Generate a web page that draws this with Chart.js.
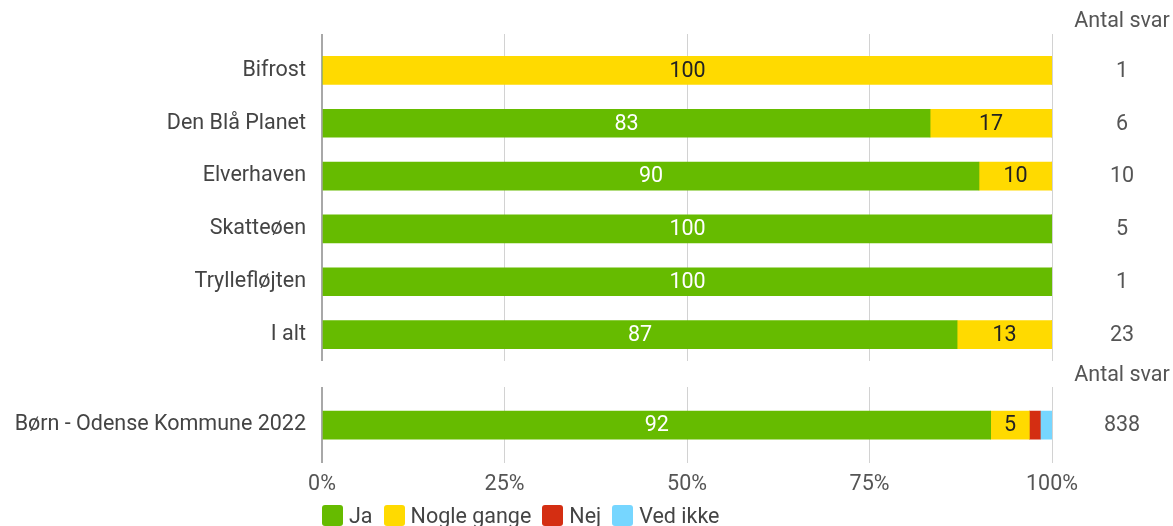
<!DOCTYPE html>
<html>
<head>
<meta charset="utf-8">
<script src="https://cdn.jsdelivr.net/npm/chart.js@4"></script>
<style>
  body { margin: 0; width: 1173px; height: 526px; background: #fff; position: relative; overflow: hidden; font-family: Roboto, sans-serif; }
  #topWrap { position: absolute; left: 0; top: 0; width: 1173px; height: 366px; }
  #bottomWrap { position: absolute; left: 0; top: 364px; width: 1173px; height: 148px; }
  #legend { position: absolute; left: 322px; top: 505px; height: 21px; display: flex; align-items: center; font-family: Roboto, sans-serif; font-size: 21.5px; color: #444; }
  #legend .item { display: flex; align-items: center; margin-right: 11px; }
  #legend .box { width: 21px; height: 21px; border-radius: 3px; margin-right: 6px; }
</style>
</head>
<body>
<div id="topWrap"><canvas id="topChart"></canvas></div>
<div id="bottomWrap"><canvas id="bottomChart"></canvas></div>
<div id="legend"></div>
<script>
const seriesNames = ['Ja', 'Nogle gange', 'Nej', 'Ved ikke'];
const seriesColors = ['#66bb00', '#ffda00', '#d42e12', '#76d6ff'];
const labelColors = ['#ffffff', '#222222', '#ffffff', '#222222'];

const topLabels = ['Bifrost', 'Den Blå Planet', 'Elverhaven', 'Skatteøen', 'Tryllefløjten', 'I alt'];
const topJa = [0, 83.3, 90, 100, 100, 87];
const topNogle = [100, 16.7, 10, 0, 0, 13];
const topNej = [0, 0, 0, 0, 0, 0];
const topVedIkke = [0, 0, 0, 0, 0, 0];
const topCounts = [1, 6, 10, 5, 1, 23];

const bottomLabels = ['Børn - Odense Kommune 2022'];
const bottomJa = [91.6];
const bottomNogle = [5.3];
const bottomNej = [1.5];
const bottomVedIkke = [1.6];
const bottomCounts = [838];

const xTicks = [0, 25, 50, 75, 100];

const FONT_SIZE = 21.5;

// draws values inside the bars and the "Antal svar" column
const barLabels = {
  id: 'barLabels',
  afterDatasetsDraw(chart, args, opts) {
    const ctx = chart.ctx;
    ctx.save();
    ctx.font = FONT_SIZE + 'px Roboto';
    ctx.textAlign = 'center';
    ctx.textBaseline = 'middle';
    chart.data.datasets.forEach((ds, i) => {
      chart.getDatasetMeta(i).data.forEach((bar, j) => {
        const v = ds.data[j];
        if (v < 4) return;
        ctx.fillStyle = ds.labelColor;
        ctx.fillText(Math.round(v), (bar.x + bar.base) / 2, bar.y + 1);
      });
    });
    const yScale = chart.scales.y;
    ctx.fillStyle = '#555';
    opts.counts.forEach((c, j) => ctx.fillText(c, 1122, yScale.getPixelForValue(j) + 1));
    ctx.fillText('Antal svar', 1122, chart.chartArea.top - opts.headerGap);
    ctx.restore();
  }
};

function makeDatasets(values) {
  return values.map((data, i) => ({
    label: seriesNames[i],
    data: data,
    backgroundColor: seriesColors[i],
    labelColor: labelColors[i],
    borderWidth: 0,
    barThickness: 28
  }));
}

const gridColor = ctx => (ctx.tick && ctx.tick.value === 0) ? '#a8a8a8' : '#d2d2d2';
const gridWidth = ctx => (ctx.tick && ctx.tick.value === 0) ? 2 : 1;

function yAxis() {
  return {
    stacked: true,
    grid: { display: false, drawTicks: false },
    border: { display: false },
    ticks: { color: '#444', padding: 16, font: { family: 'Roboto', size: FONT_SIZE } },
    afterFit: scale => {
      scale.width = 322;
      scale.paddingTop = 0;
      scale.paddingBottom = 0;
    }
  };
}

Chart.defaults.animation = false;

new Chart(document.getElementById('topChart'), {
  type: 'bar',
  data: {
    labels: topLabels,
    datasets: makeDatasets([topJa, topNogle, topNej, topVedIkke])
  },
  options: {
    indexAxis: 'y',
    responsive: true,
    maintainAspectRatio: false,
    layout: { padding: { top: 34, right: 121, bottom: 5, left: 0 } },
    scales: {
      x: {
        position: 'top',
        stacked: true,
        min: 0,
        max: 100,
        afterBuildTicks: scale => { scale.ticks = xTicks.map(v => ({ value: v })); },
        ticks: { display: false },
        grid: { tickLength: 10, color: gridColor, lineWidth: gridWidth },
        border: { display: false }
      },
      y: yAxis()
    },
    plugins: {
      legend: { display: false },
      tooltip: { enabled: false },
      barLabels: { counts: topCounts, headerGap: 22 }
    }
  },
  plugins: [barLabels]
});

new Chart(document.getElementById('bottomChart'), {
  type: 'bar',
  data: {
    labels: bottomLabels,
    datasets: makeDatasets([bottomJa, bottomNogle, bottomNej, bottomVedIkke])
  },
  options: {
    indexAxis: 'y',
    responsive: true,
    maintainAspectRatio: false,
    layout: { padding: { top: 23, right: 121, bottom: 5, left: 0 } },
    scales: {
      x: {
        position: 'bottom',
        stacked: true,
        min: 0,
        max: 100,
        afterBuildTicks: scale => { scale.ticks = xTicks.map(v => ({ value: v })); },
        ticks: { color: '#555', padding: 9, font: { family: 'Roboto', size: FONT_SIZE }, callback: v => v + '%' },
        grid: { drawTicks: false, color: gridColor, lineWidth: gridWidth },
        border: { display: false }
      },
      y: yAxis()
    },
    plugins: {
      legend: { display: false },
      tooltip: { enabled: false },
      barLabels: { counts: bottomCounts, headerGap: 11 }
    }
  },
  plugins: [barLabels]
});

const legend = document.getElementById('legend');
seriesNames.forEach((name, i) => {
  const item = document.createElement('div');
  item.className = 'item';
  item.innerHTML = '<span class="box" style="background:' + seriesColors[i] + '"></span><span>' + name + '</span>';
  legend.appendChild(item);
});
</script>
</body>
</html>
